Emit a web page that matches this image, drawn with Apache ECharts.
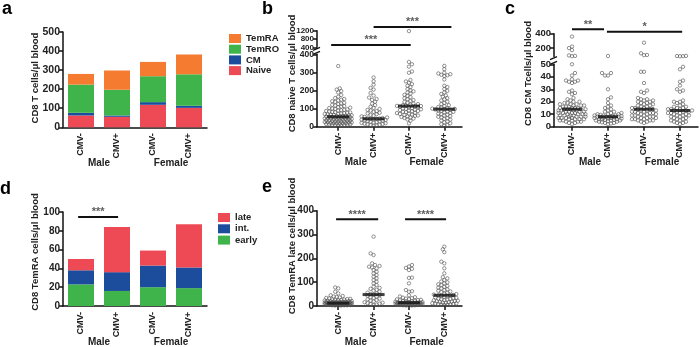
<!DOCTYPE html>
<html>
<head>
<meta charset="utf-8">
<script src="https://cdn.jsdelivr.net/npm/echarts@6/dist/echarts.min.js"></script>
<style>
  html, body { margin: 0; padding: 0; background: #fff; }
  #chart { width: 700px; height: 347px; }
</style>
</head>
<body>
<div id="chart"></div>
<script>
// categories
const cats = ['CMV-', 'CMV+', 'CMV-', 'CMV+'];
const sexes = ['Male', 'Female'];

// a: CD8 subsets (cells/ul), stacked
const aNaive = [62, 55, 118, 102];
const aCM = [14, 7, 14, 11];
const aTemRO = [148, 135, 136, 165];
const aTemRA = [56, 101, 75, 104];

// d: TemRA subsets, stacked
const dEarly = [23, 16, 20, 19];
const dInt = [15, 20, 23, 22];
const dLate = [12, 48, 16, 46];

// b: naive CD8 per donor
const bMaleNeg = [335, 212, 205, 197, 189, 175, 166, 158, 153, 149, 145, 141, 137, 132, 128, 125, 121, 117, 114, 111,
  108, 105, 103, 100, 98, 96, 93, 91, 89, 87, 84, 82, 80, 79, 77, 75, 73, 71, 70, 68, 66, 65, 63, 62, 60, 59, 58, 57,
  56, 55, 54, 53, 52, 51, 50, 48, 47, 46, 45, 44, 43, 42, 41, 39, 38, 37, 36, 35, 34, 33, 32, 31, 30, 29, 28, 27, 26,
  24, 23, 22, 21, 20, 19, 18, 17, 16, 15, 14, 13, 12, 11, 10, 9, 8, 7];
const bMalePos = [272, 251, 232, 214, 205, 186, 172, 161, 153, 148, 138, 128, 119, 110, 104, 98, 93, 89, 86, 82, 77,
  73, 69, 65, 61, 57, 54, 51, 48, 46, 45, 44, 43, 41, 39, 37, 35, 33, 31, 29, 27, 25, 23, 21, 19, 17, 15, 13, 11, 9, 7, 5];
const bFemNeg = [1180, 358, 345, 332, 305, 298, 258, 250, 243, 235, 226, 219, 208, 201, 195, 189, 183, 176, 170, 164,
  158, 152, 147, 142, 137, 132, 128, 125, 122, 119, 117, 115, 114, 112, 110, 108, 106, 103, 101, 99, 96, 94, 92, 89,
  87, 85, 82, 80, 77, 75, 72, 70, 67, 65, 62, 60, 57, 54, 51, 48, 45, 40, 33, 18];
const bFemPos = [336, 318, 298, 294, 290, 287, 284, 280, 261, 226, 219, 208, 198, 189, 181, 173, 166, 158, 151, 145,
  138, 131, 125, 119, 114, 109, 106, 103, 100, 98, 97, 95, 93, 90, 88, 85, 82, 79, 76, 72, 69, 66, 62, 59, 55, 51, 47,
  43, 39, 34, 29, 24, 19, 14, 9, 5];
const bMedian = [55, 44, 114, 97];

// c: central memory CD8 per donor
const cMaleNeg = [360, 221, 199, 171, 96, 90, 86, 50, 43, 41, 38, 37, 37, 36, 36, 35, 29, 28, 27, 26, 23, 22, 21, 20,
  20, 19, 19, 18, 18, 18, 17, 17, 17, 16, 16, 16, 15, 15, 15, 15, 14, 14, 14, 14, 14, 13, 13, 13, 13, 12, 12, 12, 12,
  11, 11, 11, 11, 10, 10, 10, 10, 9, 9, 9, 9, 8, 8, 8, 8, 7, 7, 7, 7, 6, 6, 6, 6, 5, 5, 5, 4, 4, 4, 3, 3, 2];
const cMalePos = [88, 43, 43, 41, 41, 30, 23.5, 22, 19, 17, 16, 15, 14, 13, 12, 12, 11, 11, 10, 10, 10, 9.5, 9, 9, 9,
  8.5, 8.5, 8, 8, 8, 8, 7.5, 7.5, 7, 7, 7, 6.5, 6.5, 6, 6, 6, 5.5, 5.5, 5, 5, 5, 4.5, 4, 4, 3.5, 3, 3, 2.5, 2];
const cFemNeg = [274, 126, 103, 100, 44, 44, 35, 29, 28, 27, 23, 22, 22, 21, 21, 20, 20, 19, 19, 18, 18, 17, 17, 16,
  16, 15, 15, 15, 14, 14, 14, 13, 13, 13, 12, 12, 12, 11, 11, 11, 10, 10, 10, 9, 9, 9, 8, 8, 8, 7, 7, 7, 6, 6, 6, 5, 5,
  5, 4, 4, 3];
const cFemPos = [90, 88, 86, 85, 48, 46, 37, 36, 33, 30, 29, 28, 21, 20, 20, 19, 18, 17, 16, 16, 15, 15, 14, 14, 14,
  13, 13, 13, 12, 12, 12, 11, 11, 11, 10, 10, 9, 9, 9, 8, 8, 7, 7, 6, 6, 5, 5, 4, 4, 3, 3, 2];
const cMedian = [14, 8, 14, 13];

// e: late TemRA CD8 per donor
const eMaleNeg = [78, 74, 60, 53, 45, 42, 40, 38, 36, 34, 32, 30, 29, 28, 27, 26, 25, 24, 23, 22, 21, 20, 20, 19, 19,
  18, 18, 17, 17, 16, 16, 15, 15, 15, 14, 14, 14, 13, 13, 13, 12, 12, 12, 12, 11, 11, 11, 10, 10, 10, 10, 9, 9, 9, 8,
  8, 8, 7, 7, 7, 6, 6, 6, 5, 5, 5, 4, 4, 4, 3, 3, 3, 2, 2, 1];
const eMalePos = [291, 221, 214, 179, 172, 168, 165, 162, 158, 151, 144, 137, 130, 123, 116, 109, 102, 95, 88, 81, 76,
  72, 68, 64, 60, 56, 53, 50, 48, 46, 43, 40, 37, 34, 31, 28, 25, 22, 19, 16, 14, 12, 10, 8, 6, 4];
const eFemNeg = [172, 166, 160, 156, 151, 119, 118, 95, 67, 62, 60, 45, 40, 37, 35, 33, 31, 29, 28, 26, 25, 24, 22, 21,
  20, 19, 18, 17, 16, 16, 15, 15, 14, 14, 14, 13, 13, 13, 12, 12, 12, 11, 11, 11, 10, 10, 10, 9, 9, 9, 8, 8, 7, 7, 6, 6,
  5, 5, 4, 4, 3, 3, 2, 2, 1];
const eFemPos = [249, 238, 226, 186, 179, 158, 137, 121, 116, 109, 103, 99, 95, 91, 88, 84, 80, 77, 74, 70, 67, 64, 61,
  58, 55, 52, 50, 48, 46, 45, 44, 42, 40, 38, 36, 34, 33, 31, 30, 28, 27, 25, 24, 22, 21, 20, 18, 17, 16, 14, 13, 12,
  11, 10, 9, 8, 7, 6, 5, 4];
const eMedian = [12, 48, 14, 45];

// significance brackets: [from, to, level, stars]
const bSig = [[-0.2, 2.05, 510, '***'], [1.0, 3.2, 1380, '***']];
const cSig = [[0, 0.89, 461, '**'], [0.97, 3.06, 428, '*']];
const dSig = [[-0.08, 1.03, 94.7, '***']];
const eSig = [[-0.06, 1.13, 364, '****'], [1.89, 3.05, 364, '****']];

const FONT = 'Liberation Sans, Arial, sans-serif';
const INK = '#111';
const TXT = '#222';
const COL = { naive: '#EE4A55', cm: '#1C4C9C', temro: '#3FB44B', temra: '#F47B30' };

const grid = [], xAxis = [], yAxis = [], series = [];

function addGrid(g) { grid.push(g); return grid.length - 1; }

const catLabel = { rotate: 90, margin: 6, fontSize: 9, fontWeight: 'bold', color: TXT, fontFamily: FONT };
const sexLabel = { margin: 6, fontSize: 10, fontWeight: 'bold', color: TXT, fontFamily: FONT };

// value x axis (dot plots) + a second axis carrying Male / Female
function mainX(gi, min, max) {
  xAxis.push({
    type: 'value', gridIndex: gi, position: 'bottom', min: min, max: max,
    axisLine: { onZero: false, lineStyle: { color: INK, width: 1.5 } },
    axisTick: { customValues: [0, 1, 2, 3], length: 4, lineStyle: { color: INK, width: 1.5 } },
    axisLabel: Object.assign({ customValues: [0, 1, 2, 3], formatter: v => cats[Math.round(v)] }, catLabel),
    splitLine: { show: false }
  });
  xAxis.push({
    type: 'value', gridIndex: gi, position: 'bottom', min: min, max: max, offset: 25,
    axisLine: { show: false, onZero: false }, axisTick: { show: false }, splitLine: { show: false },
    axisLabel: Object.assign({ customValues: [0.5, 2.5], formatter: v => sexes[v < 1.5 ? 0 : 1] }, sexLabel)
  });
  return xAxis.length - 2;
}

// category x axis (bar panels) + Male / Female axis
function catX(gi) {
  xAxis.push({
    type: 'category', gridIndex: gi, position: 'bottom', data: cats,
    axisLine: { onZero: false, lineStyle: { color: INK, width: 1.5 } },
    axisTick: { alignWithLabel: true, length: 4, lineStyle: { color: INK, width: 1.5 } },
    axisLabel: Object.assign({ interval: 0 }, catLabel),
    splitLine: { show: false }
  });
  xAxis.push({
    type: 'category', gridIndex: gi, position: 'bottom', data: sexes, offset: 25,
    axisLine: { show: false, onZero: false }, axisTick: { show: false }, splitLine: { show: false },
    axisLabel: Object.assign({ interval: 0 }, sexLabel)
  });
  return xAxis.length - 2;
}

function hiddenX(gi, min, max) {
  xAxis.push({ type: 'value', gridIndex: gi, position: 'bottom', min: min, max: max, show: false,
    axisLine: { onZero: false } });
  return xAxis.length - 1;
}

function addY(gi, min, max, interval, size, custom) {
  const y = {
    type: 'value', gridIndex: gi, min: min, max: max,
    axisLine: { show: true, onZero: false, lineStyle: { color: INK, width: 1.5 } },
    axisTick: { show: true, length: 4, lineStyle: { color: INK, width: 1.5 } },
    axisLabel: { margin: 3, fontSize: size, fontWeight: 'bold', color: TXT, fontFamily: FONT,
      formatter: v => String(v), lineHeight: size, hideOverlap: false, showMinLabel: true, showMaxLabel: true },
    splitLine: { show: false }
  };
  if (interval) y.interval = interval;
  if (custom) { y.axisLabel.customValues = custom; y.axisTick.customValues = custom; }
  yAxis.push(y);
  return yAxis.length - 1;
}

// beeswarm offsets (in x data units) from values and pixel scales
function swarm(vals, pxY, pxX, diam, maxHalf) {
  const idx = vals.map((_, i) => i).sort((a, b) => vals[a] - vals[b]);
  const placed = [];
  const offs = new Array(vals.length).fill(0);
  const step = diam * 0.5;
  idx.forEach((i, n) => {
    const y = vals[i] * pxY;
    const sgn = n % 2 ? 1 : -1;
    let best = 0, bestGap = -Infinity, found = false;
    for (let k = 0; k * step <= maxHalf && !found; k++) {
      const cands = k === 0 ? [0] : [sgn * k * step, -sgn * k * step];
      for (const c of cands) {
        let gap = Infinity;
        for (const p of placed) {
          const dy = p.y - y;
          if (Math.abs(dy) >= diam) continue;
          gap = Math.min(gap, Math.hypot(p.x - c, dy));
        }
        if (gap >= diam) { best = c; found = true; break; }
        if (gap > bestGap) { bestGap = gap; best = c; }
      }
    }
    placed.push({ x: best, y: y });
    offs[i] = best / pxX;
  });
  return offs;
}

function dots(xi, yi, groups, keep, pxY, pxX) {
  const data = [];
  groups.forEach((vals, g) => {
    const v = vals.filter(keep);
    const o = swarm(v, pxY, pxX, 3, 14);
    v.forEach((val, i) => data.push([g + o[i], val]));
  });
  series.push({
    type: 'scatter', xAxisIndex: xi, yAxisIndex: yi, data: data, symbol: 'circle', symbolSize: 3.4,
    itemStyle: { color: 'rgba(255,255,255,0)', borderColor: '#555', borderWidth: 0.8 }, z: 3
  });
}

function medians(xi, yi, med, w) {
  series.push({
    type: 'scatter', xAxisIndex: xi, yAxisIndex: yi, data: med.map((m, i) => [i, m]),
    symbol: 'rect', symbolSize: [w, 3], itemStyle: { color: INK }, z: 5
  });
}

function sig(xi, yi, list) {
  list.forEach(s => {
    series.push({
      type: 'line', xAxisIndex: xi, yAxisIndex: yi, data: [[s[0], s[2]], [s[1], s[2]]],
      symbol: 'none', clip: false, lineStyle: { color: INK, width: 2 }, z: 6
    });
    series.push({
      type: 'scatter', xAxisIndex: xi, yAxisIndex: yi, data: [[(s[0] + s[1]) / 2, s[2]]],
      symbolSize: 0.1, clip: false, itemStyle: { color: 'rgba(0,0,0,0)' },
      label: { show: true, position: 'top', distance: -1, formatter: s[3], fontSize: 11,
        fontWeight: 'bold', color: '#333', fontFamily: FONT }, z: 6
    });
  });
}

function stackBars(xi, yi, stack, parts) {
  parts.forEach(p => {
    series.push({
      type: 'bar', name: p[0], stack: stack, xAxisIndex: xi, yAxisIndex: yi, barWidth: 26,
      data: p[1], itemStyle: { color: p[2] }
    });
  });
}

// ---- panel a ----
const gA = addGrid({ left: 63, top: 32, width: 144, height: 95.3 });
const xA = catX(gA);
const yA = addY(gA, 0, 500, 100, 10.5);
stackBars(xA, yA, 'a', [['Naive', aNaive, COL.naive], ['CM', aCM, COL.cm],
  ['TemRO', aTemRO, COL.temro], ['TemRA', aTemRA, COL.temra]]);

// ---- panel b (broken axis) ----
const B = { left: 317, width: 145, upTop: 30.7, upH: 16.6, loTop: 54.3, loH: 72.4 };
const gBu = addGrid({ left: B.left, top: B.upTop, width: B.width, height: B.upH });
const gBl = addGrid({ left: B.left, top: B.loTop, width: B.width, height: B.loH });
const xBu = hiddenX(gBu, -0.6, 3.5);
const xBl = mainX(gBl, -0.6, 3.5);
const yBu = addY(gBu, 400, 1200, 400, 8, [400, 800, 1200]);
const yBl = addY(gBl, 0, 400, 100, 8.5);
const bGroups = [bMaleNeg, bMalePos, bFemNeg, bFemPos];
dots(xBl, yBl, bGroups, v => v <= 400, B.loH / 400, B.width / 4.1);
dots(xBu, yBu, bGroups, v => v > 400, B.upH / 800, B.width / 4.1);
medians(xBl, yBl, bMedian, 22);
sig(xBu, yBu, bSig);

// ---- panel c (broken axis) ----
const C = { left: 554, width: 144, upTop: 33.7, upH: 22.9, loTop: 64.3, loH: 62.4 };
const gCu = addGrid({ left: C.left, top: C.upTop, width: C.width, height: C.upH });
const gCl = addGrid({ left: C.left, top: C.loTop, width: C.width, height: C.loH });
const xCu = hiddenX(gCu, -0.5, 3.5);
const xCl = mainX(gCl, -0.5, 3.5);
const yCu = addY(gCu, 80, 400, null, 9.5, [200, 400]);
const yCl = addY(gCl, 0, 50, 10, 9.5);
const cGroups = [cMaleNeg, cMalePos, cFemNeg, cFemPos];
dots(xCl, yCl, cGroups, v => v <= 50, C.loH / 50, C.width / 4);
dots(xCu, yCu, cGroups, v => v > 50, C.upH / 320, C.width / 4);
medians(xCl, yCl, cMedian, 20);
sig(xCu, yCu, cSig);

// ---- panel d ----
const gD = addGrid({ left: 63, top: 212, width: 144, height: 94 });
const xD = catX(gD);
const xDs = hiddenX(gD, -0.5, 3.5);
const yD = addY(gD, 0, 100, 20, 10);
stackBars(xD, yD, 'd', [['early', dEarly, COL.temro], ['int.', dInt, COL.cm], ['late', dLate, COL.naive]]);
sig(xDs, yD, dSig);

// ---- panel e ----
const gE = addGrid({ left: 317, top: 210.7, width: 145, height: 95.3 });
const xE = mainX(gE, -0.6, 3.5);
const yE = addY(gE, 0, 400, 100, 10);
dots(xE, yE, [eMaleNeg, eMalePos, eFemNeg, eFemPos], v => true, 95.3 / 400, 145 / 4.1);
medians(xE, yE, eMedian, 22);
sig(xE, yE, eSig);

const legendText = { fontSize: 9.5, fontWeight: 'bold', color: TXT, fontFamily: FONT, lineHeight: 10 };

function yTitle(text, x, y) {
  return { type: 'text', x: x, y: y, rotation: Math.PI / 2,
    style: { text: text, fill: TXT, font: 'bold 9.5px ' + FONT, align: 'center', verticalAlign: 'middle',
      textAlign: 'center', textVerticalAlign: 'middle' } };
}
function letter(text, x, y) {
  return { type: 'text', x: x, y: y,
    style: { text: text, fill: '#000', font: 'bold 18px ' + FONT, verticalAlign: 'middle', textVerticalAlign: 'middle' } };
}
// small slanted marks where a y axis is broken
function breakMarks(P) {
  const yUp = P.upTop + P.upH, yLo = P.loTop;
  return [yUp + 1.5, yLo - 1.5].map(y => ({
    type: 'line', shape: { x1: P.left - 4, y1: y + 1.5, x2: P.left + 3, y2: y - 1.5 },
    style: { stroke: INK, lineWidth: 1.3 }
  }));
}

const option = {
  animation: false,
  backgroundColor: '#fff',
  textStyle: { fontFamily: FONT },
  grid: grid,
  xAxis: xAxis,
  yAxis: yAxis,
  legend: [
    { data: ['TemRA', 'TemRO', 'CM', 'Naive'], orient: 'vertical', left: 229, top: 33.5, padding: 0,
      itemWidth: 12, itemHeight: 9, itemGap: 0.7, icon: 'rect', selectedMode: false, textStyle: legendText },
    { data: ['late', 'int.', 'early'], orient: 'vertical', left: 218, top: 212.5, padding: 0,
      itemWidth: 12, itemHeight: 9, itemGap: 1.3, icon: 'rect', selectedMode: false, textStyle: legendText }
  ],
  graphic: [
    letter('a', 2, 8.7), letter('b', 262, 8.7), letter('c', 505, 8.7),
    letter('d', 0, 188.7), letter('e', 262, 186.7),
    yTitle('CD8 T cells/\u03bcl blood', 35, 78),
    yTitle('CD8 naive T cells/\u03bcl blood', 292, 73.5),
    yTitle('CD8 CM Tcells/\u03bcl blood', 528.5, 73.5),
    yTitle('CD8 TemRA cells/\u03bcl blood', 35.5, 252),
    yTitle('CD8 TemRA late cells/\u03bcl blood', 292, 246)
  ].concat(breakMarks(B), breakMarks(C)),
  series: series
};

const chart = echarts.init(document.getElementById('chart'), null, { renderer: 'canvas' });
chart.setOption(option);
</script>
</body>
</html>
